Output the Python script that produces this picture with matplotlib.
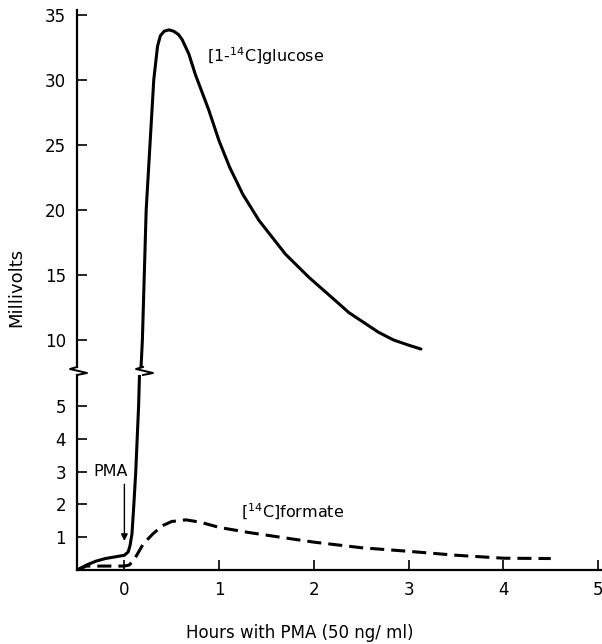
import numpy as np
import matplotlib
matplotlib.use("Agg")
import matplotlib.pyplot as plt
from matplotlib.lines import Line2D

# data (hours, millivolts)
glucose_h = [-0.5, -0.4, -0.3, -0.2, -0.1, 0.0, 0.04, 0.06, 0.08, 0.1, 0.12, 0.15, 0.16,
             0.18, 0.19, 0.21, 0.23, 0.27, 0.31, 0.35, 0.38, 0.42, 0.47, 0.52, 0.57, 0.61,
             0.68, 0.75, 0.89, 1.0, 1.11, 1.25, 1.42, 1.7, 1.95, 2.2, 2.37, 2.68, 2.84, 3.0, 3.13]
glucose_mv = [0, 0.15, 0.27, 0.35, 0.4, 0.45, 0.55, 0.75, 1.1, 2.0, 3.0, 5.0, 6.0,
              8.5, 10, 15, 20, 25, 30, 32.6, 33.4, 33.75, 33.85, 33.75, 33.5, 33.1,
              32.0, 30.4, 27.7, 25.3, 23.3, 21.2, 19.2, 16.6, 14.8, 13.2, 12.1, 10.6, 10.0, 9.6, 9.3]

formate_h = [-0.5, -0.4, -0.2, 0.0, 0.05, 0.1, 0.15, 0.2, 0.3, 0.4, 0.5, 0.65, 0.8, 1.0,
             1.3, 1.6, 2.0, 2.5, 3.0, 3.5, 4.0, 4.5]
formate_mv = [0, 0.12, 0.12, 0.12, 0.15, 0.3, 0.55, 0.8, 1.1, 1.35, 1.48, 1.53, 1.46, 1.3,
              1.15, 1.02, 0.85, 0.68, 0.57, 0.45, 0.36, 0.35]

low_ticks = [1, 2, 3, 4, 5]
high_ticks = [10, 15, 20, 25, 30, 35]
x_ticks = [0, 1, 2, 3, 4, 5]

W, H = 602, 644
fig = plt.figure(figsize=(W / 100, H / 100), dpi=100)
plt.rcParams['font.family'] = 'DejaVu Sans'

def fx(px):
    return px / W

def fy(py):
    return (H - py) / H

left, right = 77, 601
low_top, low_bot = 375, 570
high_top, high_bot = 10, 367

ax_lo = fig.add_axes([fx(left), fy(low_bot), fx(right - left), (low_bot - low_top) / H])
ax_hi = fig.add_axes([fx(left), fy(high_bot), fx(right - left), (high_bot - high_top) / H])

lw = 2.2
for ax in (ax_lo, ax_hi):
    ax.plot(glucose_h, glucose_mv, color='black', lw=lw, solid_capstyle='round',
            solid_joinstyle='round')
    ax.plot(formate_h, formate_mv, color='black', lw=lw, linestyle=(0, (4.6, 2.3)))
    ax.set_xlim(-0.5, 5.03)
    for s in ('top', 'right'):
        ax.spines[s].set_visible(False)
    ax.spines['left'].set_linewidth(1.6)
    ax.tick_params(axis='y', direction='in', length=7, width=1.2, labelsize=12, pad=8)

ax_lo.set_ylim(0, 5.95)
ax_lo.set_yticks(low_ticks)
ax_lo.set_xticks(x_ticks)
ax_lo.spines['bottom'].set_linewidth(1.6)
ax_lo.tick_params(axis='x', direction='in', length=7, width=1.2, labelsize=12, pad=8)

ax_hi.set_ylim(7.92, 35.38)
ax_hi.set_yticks(high_ticks)
ax_hi.spines['bottom'].set_visible(False)
ax_hi.tick_params(axis='x', bottom=False, labelbottom=False)

# axis break marks
def zigzag(xpx):
    xs = [xpx, xpx - 7, xpx + 10, xpx]
    ys = [367, 369, 373, 375]
    fig.add_artist(Line2D([fx(x) for x in xs], [fy(y) for y in ys],
                          transform=fig.transFigure, color='black', lw=1.4))

zigzag(left)
zigzag(143)

# labels
ax_hi.text(0.87, 31.8, r'[1-$^{14}$C]glucose', fontsize=11.5, va='center', ha='left')
ax_lo.text(1.23, 1.76, r'[$^{14}$C]formate', fontsize=11.5, va='center', ha='left')
ax_lo.text(-0.14, 3.0, 'PMA', fontsize=11.5, va='center', ha='center')
ax_lo.annotate('', xy=(0.0, 0.8), xytext=(0.0, 2.7),
               arrowprops=dict(arrowstyle='-|>', color='black', lw=1.0,
                               mutation_scale=10))

fig.text(fx(16), fy(287), 'Millivolts', rotation=90, fontsize=13, ha='center', va='center')
fig.text(fx(300), fy(633), 'Hours with PMA (50 ng/ ml)', fontsize=12, ha='center', va='center')

fig.savefig('out.png', dpi=100)
